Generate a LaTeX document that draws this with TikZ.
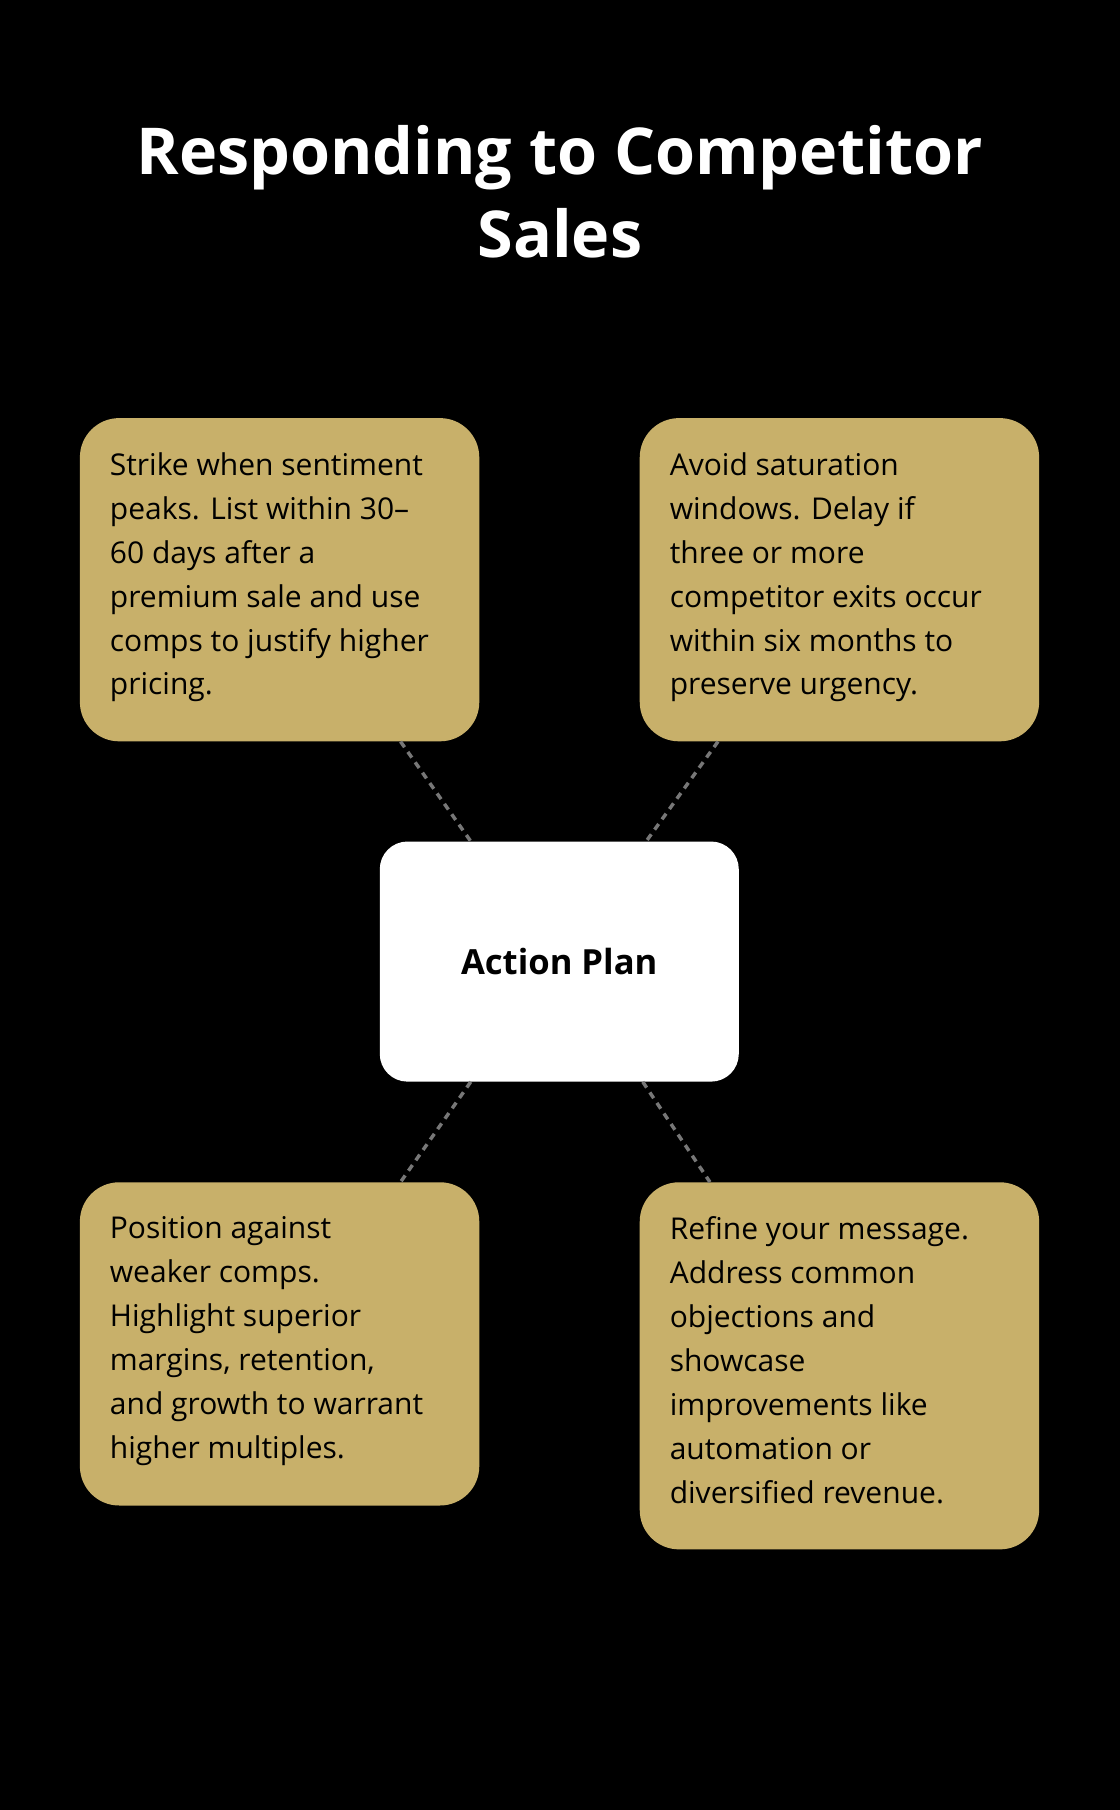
\documentclass[tikz,border=0pt]{standalone}
\usepackage{fontspec}
\setmainfont{Open Sans}
\definecolor{gold}{HTML}{C8B06A}
\definecolor{dash}{HTML}{777777}
\begin{document}
\begin{tikzpicture}[x=1pt,y=-1pt,
  box/.style={draw=none,fill=gold,rounded corners=34pt,anchor=north west,minimum width=346pt,inner sep=0pt},
  txt/.style={anchor=north west,inner sep=0pt,align=left,font=\fontsize{26}{38}\selectfont,text=black},
  conn/.style={draw=dash,line width=3pt,dash pattern=on 6pt off 5pt}]
\fill[black] (0,0) rectangle (970,1568);
\useasboundingbox (0,0) rectangle (970,1568);
\node[text=white,align=center,font=\fontsize{56}{72}\selectfont\bfseries] (title) at (485,166) {Responding to Competitor\\Sales};
\node[box,minimum height=280pt] (tl) at (69,362) {};
\node[box,minimum height=280pt] (tr) at (554,362) {};
\node[box,minimum height=280pt] (bl) at (69,1024) {};
\node[box,minimum height=318pt] (br) at (554,1024) {};
\node[fill=white,rounded corners=24pt,minimum width=311pt,minimum height=208pt,inner sep=0pt,font=\fontsize{30}{36}\selectfont\bfseries] (c) at (484.5,833) {Action Plan};
\node[txt] (t1) at (95,392) {Strike when sentiment\\peaks. List within 30–\\60 days after a\\premium sale and use\\comps to justify higher\\pricing.};
\node[txt] (t2) at (580,392) {Avoid saturation\\windows. Delay if\\three or more\\competitor exits occur\\within six months to\\preserve urgency.};
\node[txt] (t3) at (95,1054) {Position against\\weaker comps.\\Highlight superior\\margins, retention,\\and growth to warrant\\higher multiples.};
\node[txt] (t4) at (580,1054) {Refine your message.\\Address common\\objections and\\showcase\\improvements like\\automation or\\diversified revenue.};
\coordinate (a1) at ([xshift=278pt]tl.south west);
\coordinate (a2) at ([xshift=79pt]c.north west);
\coordinate (b1) at ([xshift=68pt]tr.south west);
\coordinate (b2) at ([xshift=231pt]c.north west);
\coordinate (d1) at ([xshift=79pt]c.south west);
\coordinate (d2) at ([xshift=278pt]bl.north west);
\coordinate (e1) at ([xshift=228pt]c.south west);
\coordinate (e2) at ([xshift=61pt]br.north west);
\draw[conn] (a1) -- (a2);
\draw[conn] (b1) -- (b2);
\draw[conn] (d1) -- (d2);
\draw[conn] (e1) -- (e2);
\end{tikzpicture}
\end{document}
